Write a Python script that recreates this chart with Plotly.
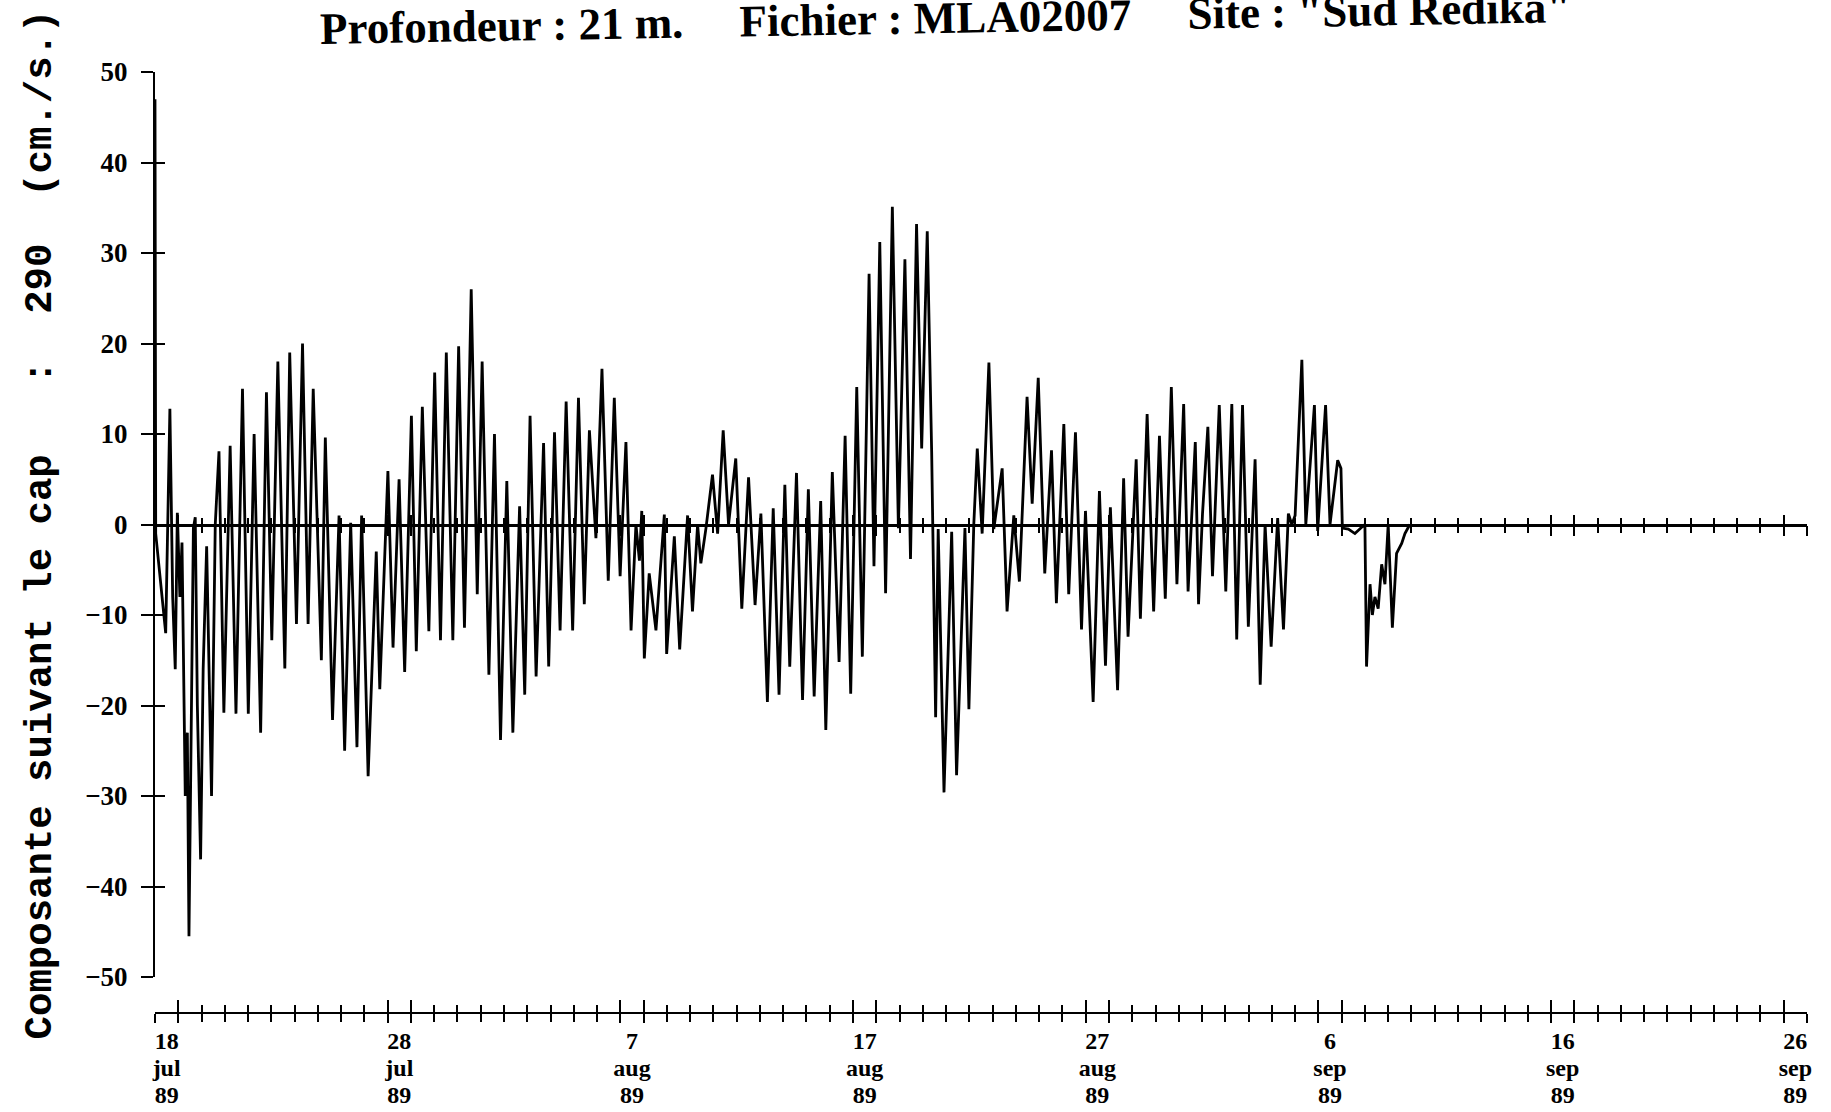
import pandas as pd
import plotly.graph_objects as go

# ---------------- data ----------------
START = "1989-07-18"
# time of each turning point, in days since 18 Jul 1989 00:00
t_days = [
    0.00, 0.03, 0.46, 0.64, 0.76, 0.87, 0.96, 1.07, 1.16, 1.30, 1.39, 1.46, 1.65, 1.73, 1.82, 1.96,
    2.07, 2.22, 2.43, 2.59, 2.75, 2.96, 3.23, 3.48, 3.76, 4.01, 4.26, 4.54, 4.79, 5.02, 5.28, 5.58,
    5.79, 6.08, 6.34, 6.58, 6.80, 7.15, 7.32, 7.63, 7.91, 8.15, 8.41, 8.68, 8.88, 9.16, 9.51, 9.66,
    10.01, 10.23, 10.49, 10.73, 11.02, 11.23,
    11.49, 11.77, 12.02, 12.27, 12.52, 12.80, 13.05, 13.30, 13.59, 13.85, 14.06, 14.35, 14.59, 14.85,
    15.12, 15.38, 15.67, 15.89, 16.12, 16.38, 16.70, 16.92, 17.17, 17.41, 17.67, 17.95, 18.20, 18.45,
    18.67, 18.95, 19.21, 19.48, 19.74, 19.99, 20.24, 20.46, 20.67, 20.82, 20.92, 21.03, 21.24, 21.53,
    21.89, 21.99, 22.32, 22.55,
    22.89, 23.10, 23.32, 23.46, 23.68, 23.96, 24.18, 24.42, 24.65, 24.96, 25.22, 25.51, 25.79, 26.04,
    26.32, 26.57, 26.82, 27.07, 27.28, 27.57, 27.83, 28.08, 28.33, 28.61, 28.83, 29.11, 29.40, 29.66,
    29.90, 30.16, 30.40, 30.69, 30.90, 31.15, 31.40, 31.69, 31.95, 32.23, 32.47, 32.73, 32.95, 33.19,
    33.38, 33.55,
    33.66, 33.91, 34.24, 34.45, 34.81, 34.98, 35.19, 35.34, 35.55, 35.84, 36.05, 36.41, 36.62, 36.91,
    37.15, 37.48, 37.70, 37.96, 38.24, 38.53, 38.74, 39.06, 39.27, 39.56, 39.82, 39.99, 40.32, 40.59,
    40.85, 41.06, 41.37, 41.63, 41.82, 42.17, 42.35, 42.64, 42.92, 43.17, 43.42, 43.68, 43.92, 44.21,
    44.40, 44.71,
    44.85, 45.02, 45.25, 45.45, 45.74, 46.02, 46.28, 46.49, 46.74, 46.99, 47.28, 47.50, 47.71, 47.97,
    48.25, 48.50, 48.71, 48.86, 49.00, 49.29, 49.46, 49.83, 49.97, 50.31, 50.50, 50.83, 50.97, 51.03,
    51.29, 51.57, 51.86, 52.00, 52.07, 52.22, 52.32, 52.43, 52.57, 52.72, 52.86, 53.00, 53.18, 53.36,
    53.58, 53.72, 53.93,
]
# velocity component along heading 290 (cm/s)
u_cms = [
    47, -1, -12, 12.8, -8, -16, 1.3, -8, -2, -30, -23, -45.5, -0.4, 0.8, -20, -37,
    -16, -2.4, -30, 0, 8.1, -20.8, 8.7, -20.9, 15, -20.9, 10, -23, 14.6, -12.8, 18, -15.9,
    19, -11, 20, -11, 15, -15, 9.6, -21.6, 1, -25, 0.2, -24.6, 1, -27.8, -3, -18.2,
    5.9, -13.6, 5, -16.3, 12, -14,
    13, -11.8, 16.8, -12.8, 19, -12.8, 19.7, -11.4, 26, -7.7, 18, -16.6, 10, -23.8,
    4.8, -23, 2, -18.8, 12, -16.8, 9, -15.7, 10.2, -11.7, 13.6, -11.7, 14, -8.8,
    10.4, -1.5, 17.2, -6.2, 14, -5.7, 9.1, -11.7, 0, -4, 1.5, -14.8, -5.4, -11.7,
    1.1, -14.3, -1.3, -13.8,
    1, -9.6, 0, -4.3, -0.4, 5.5, -1, 10.4, 0, 7.3, -9.3, 5.2, -8.9, 1.2,
    -19.6, 1.8, -18.8, 4.4, -15.7, 5.7, -19.4, 3.9, -19, 2.6, -22.7, 5.8, -15.2, 9.8,
    -18.7, 15.2, -14.6, 27.7, -4.6, 31.2, -7.6, 35.1, -0.4, 29.3, -3.8, 33.2, 8.4, 32.4,
    8, -21.3,
    -0.5, -29.6, -0.8, -27.7, -0.4, -20.4, 0, 8.4, -1, 17.9, -0.5, 6.2, -9.6, 1,
    -6.3, 14.1, 2.3, 16.2, -5.4, 8.2, -8.7, 11.1, -7.7, 10.2, -11.6, 1.5, -19.6, 3.7,
    -15.6, 1.9, -18.3, 5.1, -12.4, 7.2, -10.4, 12.2, -9.6, 9.8, -8.2, 15.2, -6.6, 13.3,
    -7.4, 9.1,
    -8.8, 1.2, 10.8, -5.7, 13.2, -7.4, 13.3, -12.7, 13.2, -11.3, 7.2, -17.7, 0, -13.5,
    0.7, -11.6, 1.2, 0, 1, 18.2, 0, 13.2, -0.7, 13.2, 0, 7.1, 6.2, -0.4,
    -0.5, -1.0, -0.3, 0, -15.7, -6.6, -10, -8, -9.3, -4.4, -6.6, 0, -11.4, -3.2,
    -2.1, -1, 0,
]

label_dates = ["1989-07-18", "1989-07-28", "1989-08-07", "1989-08-17",
               "1989-08-27", "1989-09-06", "1989-09-16", "1989-09-26"]
label_day = ["18", "28", "7", "17", "27", "6", "16", "26"]
label_month = ["jul", "jul", "aug", "aug", "aug", "sep", "sep", "sep"]
label_year = ["89", "89", "89", "89", "89", "89", "89", "89"]
y_ticks = [50, 40, 30, 20, 10, 0, -10, -20, -30, -40, -50]

title_parts = ["Profondeur : 21 m.", "Fichier : MLA02007", 'Site : "Sud Redika"']
y_title = "Composante suivant le cap   :  290  (cm./s.)"

# ---------------- layout geometry ----------------
W, H = 1831, 1112
M_L, M_R, M_T, M_B = 155, 24, 72, 99
plot_w = W - M_L - M_R
plot_h = H - M_T - M_B
Y_DOM0 = 36 / plot_h            # y axis (50 .. -50) ends above the date axis
ZERO_POS = Y_DOM0 + (1 - Y_DOM0) * 0.5

t0 = pd.Timestamp(START)
x_dates = t0 + pd.to_timedelta(t_days, unit="D")
x_range = [t0, t0 + pd.Timedelta(days=71)]
lab_ts = pd.to_datetime(label_dates)
long_ticks = sorted(list(lab_ts) + list(lab_ts + pd.Timedelta(days=1)))
lab_mid = lab_ts + pd.Timedelta(hours=12)

SERIF = "Liberation Serif"
MONO = "Liberation Mono"
DAY_MS = 86400000

fig = go.Figure()
fig.add_trace(go.Scatter(x=x_dates, y=u_cms, mode="lines",
                         line=dict(color="black", width=2.8),
                         xaxis="x", yaxis="y", showlegend=False, hoverinfo="skip"))

# invisible carriers so that every overlaid axis gets drawn
for ax in ["x2", "x3", "x4", "x5", "x6", "x7"]:
    fig.add_trace(go.Scatter(x=x_range, y=[0, 0], mode="lines", xaxis=ax, yaxis="y",
                             line=dict(width=0, color="rgba(0,0,0,0)"),
                             showlegend=False, hoverinfo="skip"))
fig.add_trace(go.Scatter(x=x_range, y=[0, 0], mode="lines", xaxis="x", yaxis="y2",
                         line=dict(width=0, color="rgba(0,0,0,0)"),
                         showlegend=False, hoverinfo="skip"))


def tick_axis(position, direction, long_len, short_len, showline, linewidth=2):
    return dict(overlaying="x", anchor="free", position=position, type="date",
                range=x_range, showgrid=False, zeroline=False, automargin=False,
                showline=showline, linecolor="black", linewidth=linewidth,
                tickmode="array", tickvals=long_ticks, ticks=direction,
                ticklen=long_len, tickwidth=2, tickcolor="black",
                showticklabels=False, layer="above traces",
                minor=dict(ticks=direction, ticklen=short_len, tickwidth=2,
                           tickcolor="black", dtick=DAY_MS, tick0=START, showgrid=False))


def label_axis(texts, standoff):
    return dict(overlaying="x", anchor="free", position=0, type="date",
                range=x_range, showgrid=False, zeroline=False, showline=False,
                automargin=False,
                tickmode="array", tickvals=lab_mid, ticktext=texts, ticks="",
                ticklabelstandoff=standoff,
                tickfont=dict(family=SERIF, size=24, color="black", weight="bold"))


xaxis_main = tick_axis(0, "outside", 9, 8, True)
xaxis_main.pop("overlaying")
fig.update_layout(
    width=W, height=H,
    margin=dict(l=M_L, r=M_R, t=M_T, b=M_B, autoexpand=False),
    paper_bgcolor="white", plot_bgcolor="white",
    showlegend=False,
    xaxis=xaxis_main,
    xaxis2=tick_axis(0, "inside", 13, 8, False),
    xaxis3=label_axis(label_day, 11),
    xaxis4=label_axis(label_month, 38),
    xaxis5=label_axis(label_year, 65),
    xaxis6=tick_axis(ZERO_POS, "outside", 10, 7, True, 2.5),
    xaxis7=tick_axis(ZERO_POS, "inside", 10, 7, False),
    yaxis=dict(domain=[Y_DOM0, 1], range=[-50, 50], anchor="x",
               showgrid=False, zeroline=False, automargin=False,
               showline=True, linecolor="black", linewidth=2,
               tickmode="array", tickvals=y_ticks, ticks="outside",
               ticklen=12, tickwidth=2, tickcolor="black",
               ticklabelstandoff=8,
               tickfont=dict(family=SERIF, size=27, color="black", weight="bold"),
               title=dict(text=y_title.replace(" ", "\u00a0"), standoff=22,
                          font=dict(family=MONO, size=39, color="black", weight="bold"))),
    yaxis2=dict(overlaying="y", anchor="x", range=[-50, 50], showgrid=False,
                zeroline=False, showline=False, automargin=False,
                tickmode="array", tickvals=y_ticks,
                ticks="inside", ticklen=10, tickwidth=2, tickcolor="black",
                showticklabels=False),
)

gap = "\u00a0" * 5
fig.add_annotation(
    text=gap.join(title_parts), xref="paper", yref="paper",
    x=(945 - M_L) / plot_w, y=(H - M_B - 18) / plot_h,
    xanchor="center", yanchor="middle", textangle=-1, showarrow=False,
    font=dict(family=SERIF, size=45, color="black", weight="bold"),
)

fig.write_html("out.html", config={"displayModeBar": False},
               post_script="document.body.style.margin='0';document.body.style.overflow='hidden';")
